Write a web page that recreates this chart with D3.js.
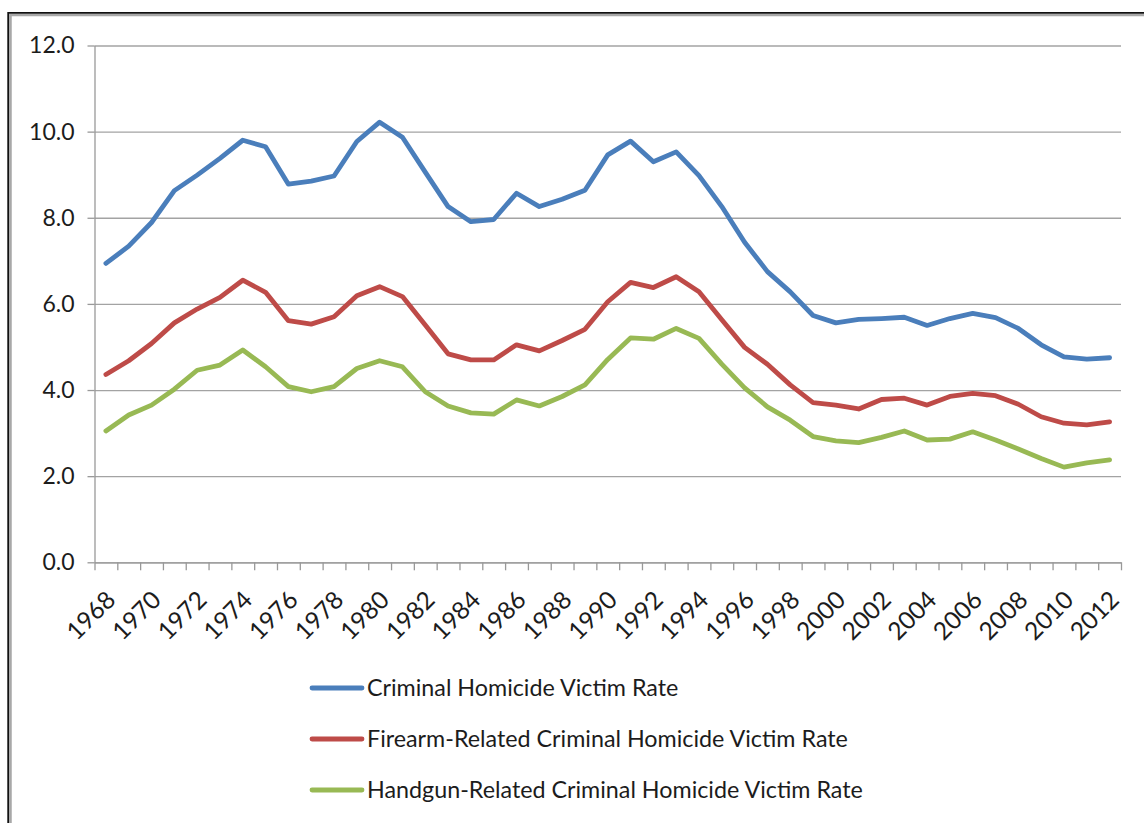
<!DOCTYPE html>
<html>
<head>
<meta charset="utf-8">
<script src="https://cdn.jsdelivr.net/npm/d3@7"></script>
<style>
  body { margin: 0; background: #fff; }
  text { font-family: Lato, "Open Sans", sans-serif; fill: #1c1c1c; }
</style>
</head>
<body>
<div id="chart"></div>
<script>
// Categories (one per year)
const years = [1968, 1969, 1970, 1971, 1972, 1973, 1974, 1975, 1976, 1977, 1978, 1979, 1980,
  1981, 1982, 1983, 1984, 1985, 1986, 1987, 1988, 1989, 1990, 1991, 1992, 1993, 1994, 1995,
  1996, 1997, 1998, 1999, 2000, 2001, 2002, 2003, 2004, 2005, 2006, 2007, 2008, 2009, 2010,
  2011, 2012];

// Rates per 100,000
const criminalRate = [6.94, 7.34, 7.89, 8.63, 8.99, 9.38, 9.80, 9.65, 8.78, 8.85, 8.97, 9.77, 10.22,
  9.87, 9.06, 8.26, 7.91, 7.96, 8.57, 8.26, 8.43, 8.64, 9.46, 9.78, 9.30, 9.53, 8.98, 8.26,
  7.43, 6.75, 6.28, 5.73, 5.56, 5.64, 5.66, 5.69, 5.50, 5.66, 5.78, 5.68, 5.43, 5.05, 4.77,
  4.72, 4.75];
const firearmRate = [4.36, 4.68, 5.08, 5.56, 5.88, 6.15, 6.55, 6.27, 5.61, 5.53, 5.70, 6.19, 6.40,
  6.17, 5.51, 4.84, 4.70, 4.70, 5.05, 4.91, 5.15, 5.41, 6.05, 6.50, 6.38, 6.63, 6.28, 5.63,
  4.99, 4.60, 4.12, 3.71, 3.65, 3.56, 3.78, 3.81, 3.65, 3.85, 3.92, 3.87, 3.67, 3.38, 3.23,
  3.19, 3.26];
const handgunRate = [3.05, 3.42, 3.65, 4.02, 4.46, 4.58, 4.93, 4.54, 4.08, 3.96, 4.08, 4.50, 4.68,
  4.54, 3.96, 3.63, 3.47, 3.44, 3.77, 3.63, 3.85, 4.12, 4.71, 5.21, 5.18, 5.43, 5.20, 4.60,
  4.05, 3.61, 3.30, 2.92, 2.82, 2.78, 2.90, 3.05, 2.84, 2.86, 3.03, 2.84, 2.63, 2.41, 2.21,
  2.31, 2.38];

const seriesNames = [
  "Criminal Homicide Victim Rate",
  "Firearm-Related Criminal Homicide Victim Rate",
  "Handgun-Related Criminal Homicide Victim Rate"
];
const yTicks = [0, 2, 4, 6, 8, 10, 12];
const xLabelYears = years.filter((d, i) => i % 2 === 0);

const series = [
  { name: seriesNames[0], values: criminalRate, color: "#4a7ebb" },
  { name: seriesNames[1], values: firearmRate, color: "#be4b48" },
  { name: seriesNames[2], values: handgunRate, color: "#98b954" }
];

const W = 1144, H = 823;
const plot = { left: 94.5, right: 1121, top: 45.5, bottom: 562.3 };

const svg = d3.select("#chart").append("svg")
  .attr("width", W)
  .attr("height", H);

// chart frame (black edge with grey shadow, runs off the right/bottom)
svg.append("path")
  .attr("d", `M10.5,${H} V15 H${W}`)
  .style("fill", "none").style("stroke", "#a8a8a8").style("stroke-width", 2.5);
svg.append("path")
  .attr("d", `M8.2,${H} V12.8 H${W}`)
  .style("fill", "none").style("stroke", "#111").style("stroke-width", 1.8);

// scales
const x = d3.scaleBand().domain(years).range([plot.left, plot.right]);
const xEdge = d3.scaleLinear().domain([0, years.length]).range([plot.left, plot.right]);
const y = d3.scaleLinear().domain([0, 12]).range([plot.bottom, plot.top]);

// gridlines
svg.append("g")
  .attr("class", "grid")
  .attr("transform", `translate(${plot.left},0)`)
  .call(d3.axisLeft(y).tickValues(yTicks).tickSize(-(plot.right - plot.left)).tickFormat(""))
  .call(g => g.select(".domain").remove())
  .call(g => g.selectAll("line").style("stroke", "#a3a3a3").style("stroke-width", 1.3));

// y axis
svg.append("g")
  .attr("transform", `translate(${plot.left},0)`)
  .call(d3.axisLeft(y).tickValues(yTicks).tickSizeInner(7).tickSizeOuter(0)
    .tickPadding(13).tickFormat(d3.format(".1f")))
  .call(g => g.select(".domain").style("stroke", "#999").style("stroke-width", 1.3))
  .call(g => g.selectAll("line").style("stroke", "#999").style("stroke-width", 1.3))
  .call(g => g.selectAll("text").style("font-size", "23px").style("fill", "#1c1c1c")
    .style("font-family", "Lato, sans-serif"));

// x axis: tick marks between categories
svg.append("g")
  .attr("transform", `translate(0,${plot.bottom})`)
  .call(d3.axisBottom(xEdge).tickValues(d3.range(0, years.length + 1))
    .tickSizeInner(8).tickSizeOuter(0).tickFormat(""))
  .call(g => g.select(".domain").style("stroke", "#999").style("stroke-width", 1.3))
  .call(g => g.selectAll("line").style("stroke", "#999").style("stroke-width", 1.3));

// x labels, every other year, rotated
svg.append("g")
  .selectAll("text")
  .data(xLabelYears)
  .enter()
  .append("text")
  .attr("transform", d => `translate(${x(d) + x.bandwidth() / 2 + 5},${plot.bottom + 33}) rotate(-45)`)
  .attr("text-anchor", "end")
  .attr("dy", "0.35em")
  .style("font-size", "24.5px")
  .text(d => d);

// lines
const line = d3.line()
  .x((d, i) => x(years[i]) + x.bandwidth() / 2)
  .y(d => y(d));

svg.append("g")
  .selectAll("path")
  .data(series)
  .enter()
  .append("path")
  .attr("d", d => line(d.values))
  .style("fill", "none")
  .style("stroke", d => d.color)
  .style("stroke-width", 4.8)
  .style("stroke-linejoin", "round")
  .style("stroke-linecap", "round");

// legend
const legend = svg.append("g")
  .selectAll("g")
  .data(series)
  .enter()
  .append("g")
  .attr("transform", (d, i) => `translate(312,${688 + i * 51})`);

legend.append("line")
  .attr("x1", 0).attr("x2", 50)
  .style("stroke", d => d.color)
  .style("stroke-width", 4.8)
  .style("stroke-linecap", "round");

legend.append("text")
  .attr("x", 55)
  .attr("dy", "0.35em")
  .style("font-size", "23.3px")
  .text(d => d.name);
</script>
</body>
</html>
